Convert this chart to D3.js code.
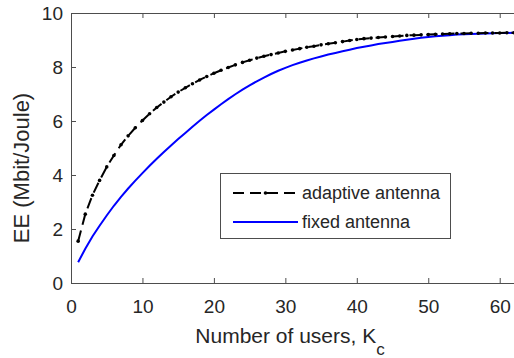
<!DOCTYPE html>
<html>
<head>
<meta charset="utf-8">
<script src="https://cdn.jsdelivr.net/npm/d3@7"></script>
<style>
  html, body { margin: 0; padding: 0; background: #fff; }
  svg { display: block; font-family: "Liberation Sans", Arial, sans-serif; }
</style>
</head>
<body>
<svg id="chart" width="514" height="358"></svg>
<script>
// Number of users K_c
const users = d3.range(1, 63);

// Energy efficiency (Mbit/Joule) with adaptive antenna selection
const adaptiveEE = [
  1.55, 2.55, 3.25, 3.80, 4.30, 4.72, 5.12, 5.45, 5.75, 6.02,
  6.27, 6.50, 6.70, 6.90, 7.07, 7.23, 7.38, 7.52, 7.65, 7.77,
  7.88, 7.98, 8.08, 8.17, 8.25, 8.33, 8.40, 8.46, 8.52, 8.58,
  8.63, 8.68, 8.73, 8.77, 8.82, 8.86, 8.90, 8.94, 8.98, 9.02,
  9.05, 9.07, 9.09, 9.11, 9.13, 9.15, 9.17, 9.18, 9.19, 9.20,
  9.21, 9.22, 9.23, 9.24, 9.24, 9.25, 9.25, 9.26, 9.26, 9.26,
  9.27, 9.27
];

// Energy efficiency (Mbit/Joule) with a fixed number of antennas
const fixedEE = [
  0.77, 1.27, 1.72, 2.12, 2.50, 2.86, 3.19, 3.50, 3.79, 4.07,
  4.34, 4.60, 4.85, 5.09, 5.33, 5.56, 5.79, 6.01, 6.22, 6.42,
  6.62, 6.81, 6.99, 7.16, 7.32, 7.47, 7.61, 7.74, 7.86, 7.97,
  8.07, 8.16, 8.24, 8.32, 8.39, 8.46, 8.52, 8.58, 8.64, 8.70,
  8.75, 8.80, 8.85, 8.89, 8.93, 8.97, 9.01, 9.05, 9.08, 9.11,
  9.14, 9.16, 9.18, 9.20, 9.21, 9.22, 9.23, 9.24, 9.25, 9.26,
  9.26, 9.27
];

const xTicks = [0, 10, 20, 30, 40, 50, 60];
const yTicks = [0, 2, 4, 6, 8, 10];
const legendLabels = ["adaptive antenna", "fixed antenna"];

const svg = d3.select("#chart");
const plotLeft = 71, plotRight = 514, plotTop = 13, plotBottom = 283;

const x = d3.scaleLinear().domain([0, 62]).range([plotLeft, plotRight]);
const y = d3.scaleLinear().domain([0, 10]).range([plotBottom, plotTop]);

const axisColor = "#262626";
const lineColor = "#4d4d4d";
const tickLen = 5;
const dashPattern = "11,6";

// plot box (top and bottom edges, left edge)
const frame = svg.append("g").attr("stroke", lineColor).attr("stroke-width", 1);
frame.append("line").attr("x1", plotLeft).attr("x2", plotRight).attr("y1", plotBottom + 0.5).attr("y2", plotBottom + 0.5);
frame.append("line").attr("x1", plotLeft).attr("x2", plotRight).attr("y1", plotTop + 0.5).attr("y2", plotTop + 0.5);
frame.append("line").attr("x1", plotLeft + 0.5).attr("x2", plotLeft + 0.5).attr("y1", plotTop).attr("y2", plotBottom + 1);

// bottom axis, ticks pointing inward
const xAxis = svg.append("g").attr("transform", `translate(0,${plotBottom})`)
  .call(d3.axisBottom(x).tickValues(xTicks).tickSize(-tickLen).tickPadding(tickLen + 12));
xAxis.select(".domain").remove();
xAxis.selectAll("line").attr("stroke", lineColor);
xAxis.selectAll("text").attr("fill", axisColor).style("font-size", "19px")
  .style("font-family", "Liberation Sans, Arial, sans-serif");

// mirrored ticks on top
const xTop = svg.append("g").attr("transform", `translate(0,${plotTop})`)
  .call(d3.axisTop(x).tickValues(xTicks).tickSize(-tickLen).tickFormat(""));
xTop.select(".domain").remove();
xTop.selectAll("line").attr("stroke", lineColor);

// left axis
const yAxis = svg.append("g").attr("transform", `translate(${plotLeft},0)`)
  .call(d3.axisLeft(y).tickValues(yTicks).tickSize(-tickLen).tickPadding(tickLen + 3));
yAxis.select(".domain").remove();
yAxis.selectAll("line").attr("stroke", lineColor);
yAxis.selectAll("text").attr("fill", axisColor).style("font-size", "19px")
  .style("font-family", "Liberation Sans, Arial, sans-serif");

// axis titles
const xLabel = svg.append("text")
  .attr("x", 290).attr("y", 343)
  .attr("text-anchor", "middle").attr("fill", axisColor).style("font-size", "21px");
xLabel.append("tspan").text("Number of users, K");
xLabel.append("tspan").attr("dy", 12).style("font-size", "17px").text("c");

svg.append("text")
  .attr("transform", `translate(29,168) rotate(-90)`)
  .attr("text-anchor", "middle").attr("fill", axisColor).style("font-size", "22px")
  .text("EE (Mbit/Joule)");

// curves
const line = d3.line().x((d, i) => x(users[i])).y(d => y(d));

const plot = svg.append("g");
plot.append("path").datum(fixedEE)
  .attr("d", line).attr("fill", "none").attr("stroke", "#0000ff").attr("stroke-width", 2);

plot.append("path").datum(adaptiveEE)
  .attr("d", line).attr("fill", "none").attr("stroke", "#000")
  .attr("stroke-width", 2).attr("stroke-dasharray", dashPattern);
plot.selectAll("circle.mk").data(adaptiveEE).join("circle").attr("class", "mk")
  .attr("cx", (d, i) => x(users[i])).attr("cy", d => y(d)).attr("r", 1.8).attr("fill", "#000");

// legend
const lg = svg.append("g");
lg.append("rect").attr("x", 220.5).attr("y", 173.5).attr("width", 230).attr("height", 65)
  .attr("fill", "#fff").attr("stroke", lineColor).attr("stroke-width", 1);
const rowY = [193, 222];
lg.append("line").attr("x1", 233).attr("x2", 298).attr("y1", rowY[0]).attr("y2", rowY[0])
  .attr("stroke", "#000").attr("stroke-width", 2).attr("stroke-dasharray", dashPattern);
lg.append("circle").attr("cx", 265.5).attr("cy", rowY[0]).attr("r", 1.8).attr("fill", "#000");
lg.append("line").attr("x1", 233).attr("x2", 298).attr("y1", rowY[1]).attr("y2", rowY[1])
  .attr("stroke", "#0000ff").attr("stroke-width", 2);
lg.selectAll("text.lg").data(legendLabels).join("text").attr("class", "lg")
  .attr("x", 302).attr("y", (d, i) => rowY[i]).attr("dy", "0.35em")
  .attr("fill", axisColor).style("font-size", "18px").text(d => d);
</script>
</body>
</html>
